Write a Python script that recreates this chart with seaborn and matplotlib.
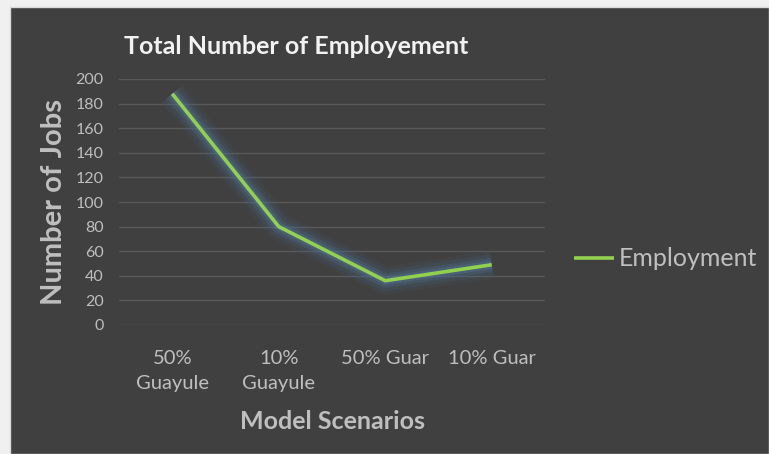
import matplotlib
matplotlib.use("Agg")
import matplotlib.pyplot as plt
import matplotlib.patheffects as pe
from matplotlib.patches import Rectangle
import seaborn as sns
import pandas as pd

# Data
scenarios = ["50%\nGuayule", "10%\nGuayule", "50% Guar", "10% Guar"]
jobs = [188, 80, 36, 49]
series_name = "Employment"
y_ticks = [0, 20, 40, 60, 80, 100, 120, 140, 160, 180, 200]

df = pd.DataFrame({"Scenario": scenarios, "Jobs": jobs})

sns.set_theme(style="dark")
plt.rcParams["font.family"] = ["Lato", "DejaVu Sans"]

BG = "#404040"
TXT = "#bfbfbf"
GRID = "#595959"
GREEN = "#92d050"

fig = plt.figure(figsize=(7.69, 4.54), dpi=100)
fig.patch.set_facecolor("#f0f0f0")
# dark chart panel, kept behind the axes
fig.patches.append(Rectangle((10 / 769, 0), 1 - 10 / 769, 1 - 7 / 454,
                             transform=fig.transFigure, facecolor=BG,
                             edgecolor="#d9d9d9", linewidth=1, zorder=-10))

ax = fig.add_axes([119 / 769, 1 - 325 / 454, (545 - 119) / 769, (325 - 79) / 454])
ax.set_facecolor(BG)

sns.lineplot(data=df, x="Scenario", y="Jobs", ax=ax, color=GREEN,
             linewidth=2.6, label=series_name, sort=False)
line = ax.lines[0]
line.set_path_effects([
    pe.Stroke(linewidth=20, foreground="#4a6a8a", alpha=0.10),
    pe.Stroke(linewidth=15, foreground="#4a6a8a", alpha=0.16),
    pe.Stroke(linewidth=10, foreground="#4f7090", alpha=0.28),
    pe.Stroke(linewidth=6, foreground="#55789a", alpha=0.35),
    pe.Normal(),
])
line.set_solid_capstyle("butt")

ax.set_xlim(-0.5, 3.5)
ax.set_ylim(0, 200)
ax.set_yticks(y_ticks)
ax.yaxis.grid(True, color=GRID, linewidth=1)
ax.xaxis.grid(False)
for s in ax.spines.values():
    s.set_visible(False)

ax.tick_params(axis="y", colors=TXT, labelsize=11.5, length=0, pad=11)
ax.tick_params(axis="x", colors=TXT, labelsize=14.5, length=0, pad=18)
for lbl in ax.get_xticklabels():
    lbl.set_linespacing(1.6)
    lbl.set_verticalalignment("top")

ax.set_xlabel("Model Scenarios", color=TXT, fontsize=18, fontweight="bold", labelpad=13)
ax.set_ylabel("Number of Jobs", color=TXT, fontsize=21, fontweight="bold", labelpad=6)

fig.text(124 / 769, 1 - 47 / 454, "Total Number of Employement", color="#f2f2f2",
         fontsize=18, fontweight="bold", ha="left", va="center")

leg = ax.legend(loc="center left", bbox_to_anchor=(551 / 769, 1 - 259 / 454),
                bbox_transform=fig.transFigure, frameon=False, fontsize=18,
                handlelength=1.6, handletextpad=0.2, labelcolor=TXT)
for h in leg.get_lines():
    h.set_path_effects([])
    h.set_linewidth(2.6)

fig.savefig("out.png", dpi=100, facecolor=fig.get_facecolor())
